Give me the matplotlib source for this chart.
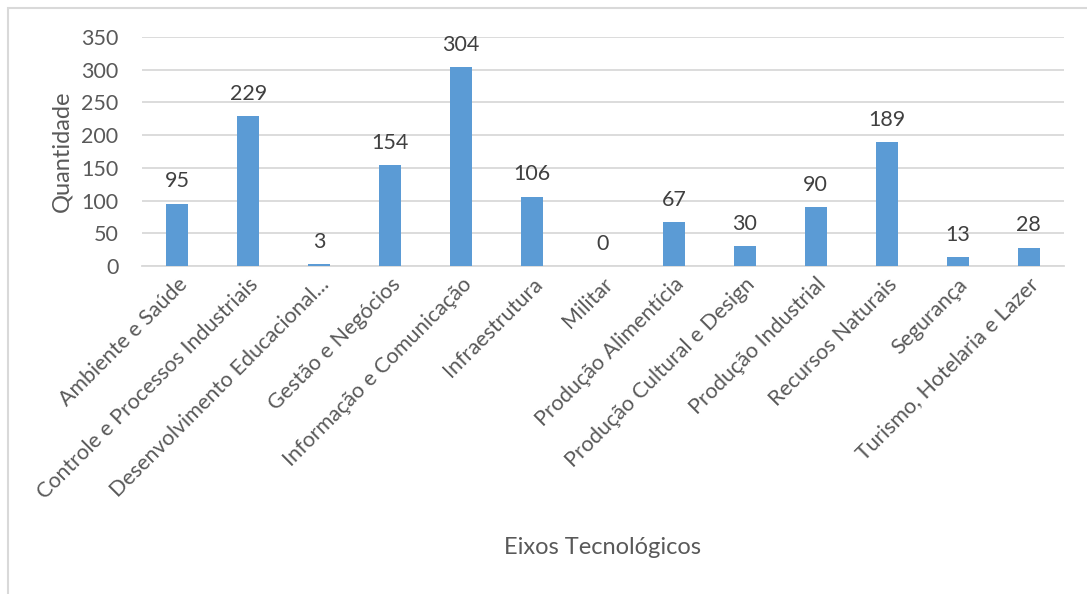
import matplotlib.pyplot as plt
import matplotlib.patches as mpatches
import numpy as np

# eixos tecnologicos e quantidade de cursos
eixos = ['Ambiente e Saúde', 'Controle e Processos Industriais', 'Desenvolvimento Educacional...',
         'Gestão e Negócios', 'Informação e Comunicação', 'Infraestrutura', 'Militar',
         'Produção Alimentícia', 'Produção Cultural e Design', 'Produção Industrial',
         'Recursos Naturais', 'Segurança', 'Turismo, Hotelaria e Lazer']
quantidade = [95, 229, 3, 154, 304, 106, 0, 67, 30, 90, 189, 13, 28]
yticks = [0, 50, 100, 150, 200, 250, 300, 350]

plt.rcParams['font.family'] = ['Lato', 'DejaVu Sans']
cinza = '#595959'

fig = plt.figure(figsize=(10.87, 5.94), dpi=100)
# moldura do grafico
fig.patches.append(mpatches.Rectangle((8 / 1087, -0.01), 1.1, 1 - 8 / 594 + 0.01,
                                      transform=fig.transFigure, fill=False,
                                      edgecolor='#d9d9d9', linewidth=1.5))

ax = fig.add_axes([142 / 1087, 1 - 266 / 594, (1064 - 142) / 1087, (266 - 37) / 594])
x = np.arange(len(eixos))
bars = ax.bar(x, quantidade, width=0.31, color='#5b9bd5', zorder=3)

for xi, v in zip(x, quantidade):
    ax.annotate(str(v), (xi, v), xytext=(0, 9), textcoords='offset points',
                ha='center', va='bottom', fontsize=15.5, color='#404040')

ax.set_xlim(-0.5, len(eixos) - 0.5)
ax.set_ylim(0, 350)
ax.set_yticks(yticks)
ax.grid(axis='y', color='#d9d9d9', linewidth=1.3, zorder=0)
for s in ['top', 'right', 'left']:
    ax.spines[s].set_visible(False)
ax.spines['bottom'].set_color('#d9d9d9')
ax.spines['bottom'].set_linewidth(1.3)
ax.tick_params(length=0, labelsize=15.5, labelcolor=cinza)
ax.tick_params(axis='y', pad=17)
ax.set_xticks(x)
ax.set_xticklabels(eixos, rotation=45, ha='right', rotation_mode='anchor')
ax.tick_params(axis='x', pad=6)

ax.set_ylabel('Quantidade', fontsize=17, color=cinza, labelpad=6)
fig.text(603 / 1087, 1 - 548 / 594, 'Eixos Tecnológicos', ha='center', va='center',
         fontsize=17, color=cinza)

fig.savefig('out.png', dpi=100)
